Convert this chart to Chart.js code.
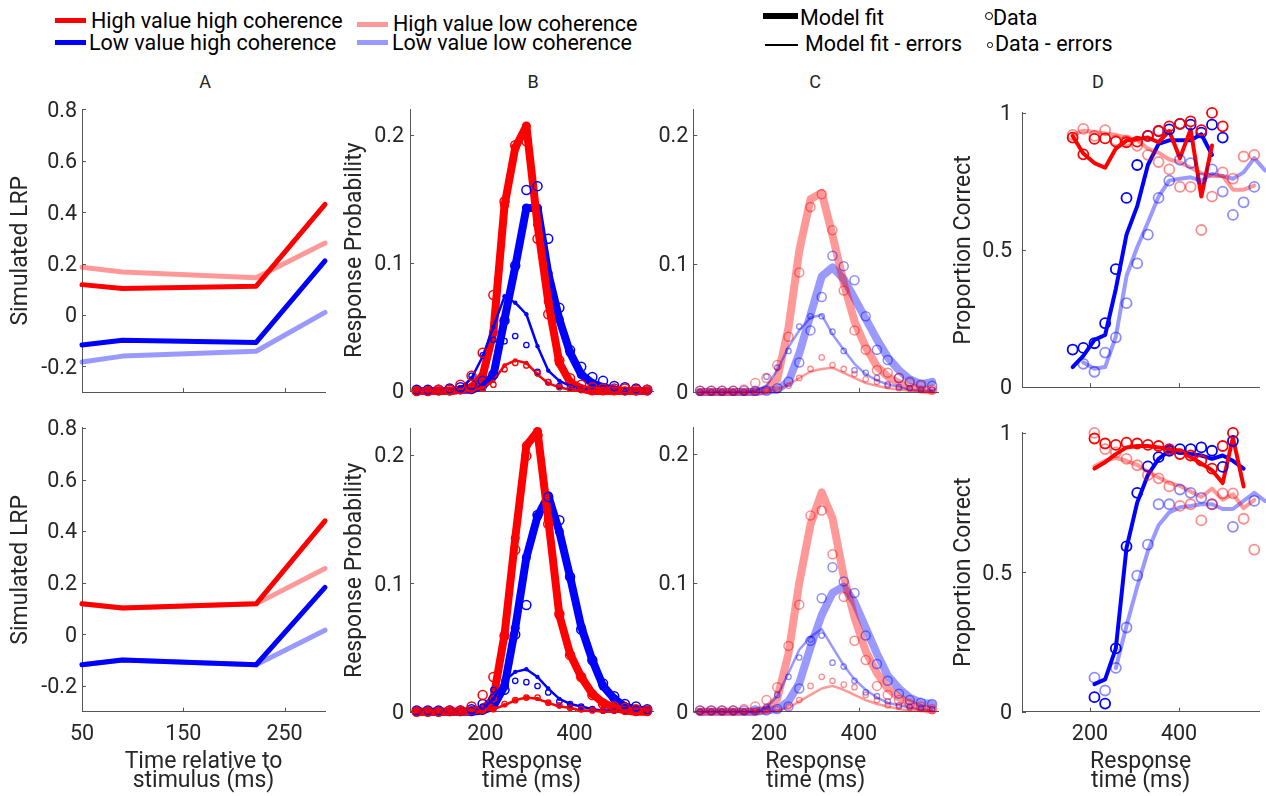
<!DOCTYPE html>
<html>
<head>
<meta charset="utf-8">
<script src="https://cdn.jsdelivr.net/npm/chart.js@4.4.0/dist/chart.umd.min.js"></script>
<style>
  body { margin: 0; background: #fff; width: 1266px; height: 796px; overflow: hidden; position: relative; font-family: Roboto, sans-serif; color: #000; }
  canvas { position: absolute; }
  .lg { position: absolute; font-size: 21.5px; line-height: 1; white-space: nowrap; }
  .sw { position: absolute; }
  .ring { position: absolute; box-sizing: border-box; border: 1.3px solid #000; border-radius: 50%; }
  .letter { position: absolute; width: 40px; text-align: center; font-size: 18px; line-height: 1; color: #262626; }
</style>
</head>
<body>

<!-- legend -->
<div class="sw" style="left:55px;top:18px;width:31px;height:5px;background:#ff0000"></div>
<div class="lg" style="left:91px;top:10px">High value high coherence</div>
<div class="sw" style="left:55px;top:40px;width:31px;height:5px;background:#0000ff"></div>
<div class="lg" style="left:89px;top:32px">Low value high coherence</div>
<div class="sw" style="left:357px;top:22px;width:31px;height:5px;background:rgba(255,0,0,0.4)"></div>
<div class="lg" style="left:393px;top:12.5px">High value low coherence</div>
<div class="sw" style="left:357px;top:40px;width:31px;height:5px;background:rgba(0,0,255,0.4)"></div>
<div class="lg" style="left:392px;top:32px">Low value low coherence</div>
<div class="sw" style="left:763px;top:13px;width:35px;height:6px;background:#000"></div>
<div class="lg" style="left:800px;top:7px">Model fit</div>
<div class="sw" style="left:765px;top:43.7px;width:33px;height:2.5px;background:#000"></div>
<div class="lg" style="left:805px;top:33px">Model fit - errors</div>
<div class="ring" style="left:985px;top:12px;width:8px;height:8px"></div>
<div class="lg" style="left:993px;top:7px">Data</div>
<div class="ring" style="left:987.3px;top:42.3px;width:5.5px;height:5.5px"></div>
<div class="lg" style="left:995px;top:33px">Data - errors</div>

<div class="letter" style="left:185px;top:73px">A</div>
<div class="letter" style="left:513px;top:73px">B</div>
<div class="letter" style="left:795px;top:73px">C</div>
<div class="letter" style="left:1078px;top:73px">D</div>

<canvas id="aTop" width="335" height="320" style="left:0px;top:90px"></canvas>
<canvas id="bTop" width="360" height="320" style="left:300px;top:90px"></canvas>
<canvas id="cTop" width="300" height="320" style="left:645px;top:90px"></canvas>
<canvas id="dTop" width="331" height="320" style="left:935px;top:90px"></canvas>
<canvas id="aBot" width="335" height="386" style="left:0px;top:410px"></canvas>
<canvas id="bBot" width="360" height="386" style="left:300px;top:410px"></canvas>
<canvas id="cBot" width="300" height="386" style="left:645px;top:410px"></canvas>
<canvas id="dBot" width="331" height="386" style="left:935px;top:410px"></canvas>

<script>
// ---- A: simulated LRP ----
const lrpTime = [50, 90, 222, 290];
const lrpTopHH = [0.118, 0.103, 0.112, 0.43];
const lrpTopHL = [0.186, 0.167, 0.145, 0.28];
const lrpTopLH = [-0.117, -0.098, -0.107, 0.21];
const lrpTopLL = [-0.183, -0.16, -0.141, 0.01];
const lrpBotHH = [0.118, 0.102, 0.118, 0.44];
const lrpBotHL = [0.118, 0.102, 0.118, 0.255];
const lrpBotLH = [-0.118, -0.1, -0.118, 0.182];
const lrpBotLL = [-0.118, -0.1, -0.118, 0.016];

// ---- B / C: response time distributions ----
const rtBins = [46, 71, 95, 120, 144, 169, 194, 218, 243, 267, 292, 317, 341, 366, 390, 415, 440, 464, 489, 513, 538, 563];

const bTopHHFit     = [0,0,0,0,0.001,0.003,0.012,0.046,0.145,0.19,0.207,0.13,0.07,0.022,0.007,0.002,0,0,0,0,0,0];
const bTopLHFit     = [0,0,0,0,0.001,0.001,0.004,0.012,0.056,0.097,0.143,0.143,0.092,0.056,0.03,0.013,0.006,0.003,0.001,0,0,0];
const bTopHHErrFit  = [0,0,0,0,0,0,0.003,0.008,0.02,0.024,0.022,0.013,0.006,0.003,0.001,0,0,0,0,0,0,0];
const bTopLHErrFit  = [0,0,0,0,0.002,0.01,0.027,0.05,0.074,0.069,0.06,0.035,0.016,0.008,0.004,0.002,0.001,0,0,0,0,0];
const bTopHHData    = [0,0,0.001,0.001,0.005,0.012,0.03,0.075,0.148,0.192,0.195,0.119,0.06,0.024,0.01,0.005,0.003,0.002,0.002,0.002,0.001,0.001];
const bTopLHData    = [0.001,0.001,0.001,0.002,0.003,0.005,0.008,0.013,0.055,0.098,0.157,0.16,0.119,0.065,0.032,0.019,0.011,0.008,0.004,0.003,0.002,0.001];
const bTopHHErrData = [0,0,0,0,0,0.001,0.002,0.005,0.017,0.022,0.02,0.014,0.007,0.003,0.002,0.001,0.001,0.001,0.001,0.001,0,0];
const bTopLHErrData = [0,0,0,0,0.002,0.012,0.028,0.04,0.039,0.043,0.036,0.015,0.007,0.004,0.003,0.001,0.001,0.001,0.001,0,0,0];

const bBotHHFit     = [0,0,0,0,0,0.001,0.002,0.01,0.06,0.135,0.207,0.218,0.15,0.075,0.045,0.027,0.014,0.007,0.003,0.001,0,0];
const bBotLHFit     = [0,0,0,0,0,0,0.001,0.004,0.02,0.065,0.12,0.152,0.168,0.14,0.105,0.066,0.04,0.02,0.01,0.004,0.002,0.001];
const bBotHHErrFit  = [0,0,0,0,0,0,0.001,0.002,0.005,0.009,0.011,0.01,0.007,0.004,0.003,0.001,0.001,0,0,0,0,0];
const bBotLHErrFit  = [0,0,0,0,0,0,0.002,0.01,0.024,0.031,0.033,0.027,0.018,0.01,0.006,0.004,0.002,0.001,0.001,0,0,0];
const bBotHHData    = [0,0,0,0.001,0.001,0.004,0.013,0.027,0.059,0.126,0.199,0.215,0.146,0.076,0.044,0.027,0.013,0.006,0.004,0.003,0.002,0.001];
const bBotLHData    = [0.001,0.001,0.001,0.001,0.001,0.002,0.006,0.01,0.017,0.06,0.083,0.153,0.167,0.149,0.105,0.064,0.04,0.022,0.012,0.006,0.004,0.002];
const bBotHHErrData = [0,0,0,0,0,0,0.001,0.002,0.006,0.009,0.011,0.011,0.007,0.005,0.003,0.002,0.001,0.001,0.001,0,0,0];
const bBotLHErrData = [0,0,0,0,0,0.001,0.004,0.017,0.024,0.024,0.023,0.02,0.015,0.008,0.006,0.004,0.002,0.001,0.001,0.001,0,0];

const cTopHLFit     = [0,0,0,0,0,0,0.002,0.01,0.05,0.11,0.15,0.155,0.122,0.085,0.055,0.035,0.02,0.012,0.007,0.004,0.002,0.001];
const cTopLLFit     = [0,0,0,0,0,0,0.001,0.002,0.008,0.03,0.06,0.09,0.097,0.088,0.073,0.057,0.041,0.027,0.017,0.01,0.006,0.008];
const cTopHLErrFit  = [0,0,0,0,0,0,0,0.002,0.006,0.011,0.016,0.018,0.019,0.015,0.011,0.007,0.005,0.003,0.002,0.001,0.001,0];
const cTopLLErrFit  = [0,0,0,0,0,0.001,0.005,0.017,0.035,0.048,0.058,0.06,0.045,0.033,0.022,0.014,0.009,0.006,0.004,0.002,0.001,0.001];
const cTopHLData    = [0.001,0.001,0.001,0.001,0.002,0.007,0.011,0.021,0.043,0.093,0.144,0.154,0.126,0.079,0.048,0.033,0.017,0.015,0.011,0.007,0.005,0.002];
const cTopLLData    = [0.001,0.001,0.001,0.001,0.001,0.001,0.001,0.003,0.008,0.023,0.048,0.074,0.106,0.098,0.087,0.059,0.033,0.025,0.011,0.008,0.006,0.005];
const cTopHLErrData = [0,0,0,0,0,0,0.001,0.002,0.005,0.011,0.018,0.027,0.021,0.018,0.014,0.01,0.008,0.005,0.003,0.003,0.002,0.002];
const cTopLLErrData = [0,0,0,0,0,0.002,0.012,0.019,0.032,0.051,0.059,0.059,0.047,0.032,0.017,0.015,0.011,0.006,0.004,0.003,0.002,0.002];

const cBotHLFit     = [0,0,0,0,0,0,0.002,0.01,0.045,0.1,0.145,0.17,0.15,0.105,0.073,0.047,0.03,0.018,0.011,0.006,0.003,0.001];
const cBotLLFit     = [0,0,0,0,0,0,0.001,0.002,0.008,0.022,0.05,0.075,0.092,0.097,0.085,0.065,0.045,0.028,0.018,0.011,0.007,0.006];
const cBotHLErrFit  = [0,0,0,0,0,0,0,0.001,0.003,0.008,0.013,0.018,0.02,0.017,0.013,0.009,0.006,0.004,0.002,0.001,0.001,0.001];
const cBotLLErrFit  = [0,0,0,0,0,0,0.003,0.012,0.03,0.048,0.058,0.064,0.05,0.036,0.025,0.017,0.011,0.007,0.005,0.003,0.002,0.001];
const cBotHLData    = [0.001,0.001,0.001,0.001,0.002,0.004,0.009,0.019,0.051,0.083,0.152,0.156,0.122,0.089,0.055,0.04,0.02,0.013,0.009,0.006,0.004,0.002];
const cBotLLData    = [0.001,0.001,0.001,0.001,0.001,0.001,0.001,0.002,0.004,0.018,0.055,0.088,0.112,0.101,0.092,0.059,0.037,0.024,0.014,0.009,0.007,0.006];
const cBotHLErrData = [0,0,0,0,0,0,0.001,0.002,0.004,0.009,0.02,0.027,0.024,0.021,0.019,0.013,0.009,0.005,0.004,0.003,0.002,0.002];
const cBotLLErrData = [0,0,0,0,0,0.001,0.004,0.013,0.027,0.042,0.056,0.059,0.038,0.035,0.024,0.015,0.012,0.008,0.005,0.004,0.003,0.002];

// ---- D: proportion correct ----
const accBins = [161, 185, 210, 234, 258, 282, 306, 330, 354, 378, 402, 426, 450, 474, 498, 521, 545, 569, 593];

const dTopHHFit  = [0.916,0.852,0.817,0.8,0.87,0.899,0.905,0.91,0.893,0.934,0.835,0.94,0.695,0.881,null,null,null,null,null];
const dTopLHFit  = [0.073,0.114,0.172,0.19,0.358,0.556,0.66,0.81,0.887,0.9,0.9,0.9,0.922,0.847,null,null,null,null,null];
const dTopHLFit  = [0.92,0.935,0.93,0.925,0.92,0.91,0.9,0.87,0.855,0.83,0.82,0.8,0.78,0.77,0.77,0.72,0.72,0.735,null];
const dTopLLFit  = [null,0.09,0.067,0.073,0.184,0.405,0.51,0.6,0.695,0.753,0.76,0.765,0.753,0.777,0.77,0.76,0.783,0.835,0.79];
const dTopHHData = [0.91,0.849,0.905,0.907,0.895,0.893,0.895,0.916,0.934,0.951,0.96,0.969,0.937,1.0,0.951,null,null,null,null];
const dTopLHData = [0.137,0.143,0.16,0.233,0.43,0.69,0.81,0.916,0.934,0.94,0.96,0.957,0.928,0.957,0.91,null,null,null,null];
const dTopHLData = [0.92,0.942,0.916,0.937,0.9,0.9,0.88,0.847,0.821,0.794,0.73,0.73,0.573,0.695,0.783,0.76,0.841,0.847,null];
const dTopLLData = [null,0.085,0.056,0.126,0.181,0.306,0.451,0.556,0.69,0.753,0.829,0.817,0.76,0.794,0.713,0.628,0.674,0.73,null];

const dBotHHFit  = [null,null,0.872,0.895,0.924,0.948,0.953,0.953,0.948,0.942,0.936,0.913,0.89,0.866,0.82,0.983,0.808,null,null];
const dBotLHFit  = [null,null,0.099,0.116,0.227,0.587,0.75,0.849,0.907,0.936,0.93,0.924,0.919,0.907,0.919,0.9,0.872,null,null];
const dBotHLFit  = [null,null,0.88,0.9,0.91,0.9,0.885,0.86,0.84,0.82,0.81,0.79,0.77,0.8,0.76,0.78,0.73,0.76,null];
const dBotLLFit  = [null,null,null,null,0.157,0.308,0.448,0.576,0.669,0.715,0.733,0.738,0.744,0.744,0.727,0.727,0.756,0.785,0.756];
const dBotHHData = [null,null,0.98,0.962,0.957,0.965,0.962,0.957,0.953,0.942,0.924,0.919,0.901,0.872,0.953,1.0,null,null,null];
const dBotLHData = [null,null,0.052,0.029,0.227,0.593,0.785,0.88,0.913,0.936,0.942,0.942,0.948,0.936,0.878,0.971,null,null,null];
const dBotHLData = [null,null,1.0,0.942,0.93,0.907,0.884,0.849,0.837,0.808,0.738,0.744,0.686,0.744,0.783,0.783,0.692,0.581,null];
const dBotLLData = [null,null,0.122,0.076,0.157,0.302,0.488,0.599,0.744,0.744,0.797,0.785,0.767,0.744,null,0.663,null,0.756,null];

// ---- ticks ----
const lrpYTicks = [-0.2, 0, 0.2, 0.4, 0.6, 0.8];
const lrpXTicks = [50, 150, 250];
const probYTicks = [0, 0.1, 0.2];
const rtXTicks = [200, 400];
const accYTicks = [0, 0.5, 1];

const RED = '#ff0000', BLUE = '#0000ff';
const PINK = 'rgba(255,0,0,0.4)', LBLUE = 'rgba(0,0,255,0.4)';
const PINKC = 'rgba(255,0,0,0.45)', LBLUEC = 'rgba(0,0,255,0.45)';
const TXT = '#262626', AX = '#555555';

Chart.defaults.font.family = 'Roboto, sans-serif';
Chart.defaults.color = TXT;

function pts(xs, ys) {
  return xs.map((x, i) => ({x: x, y: ys[i]})).filter(p => p.y !== null && p.y !== undefined);
}
function line(xs, ys, color, width, dot) {
  return {data: pts(xs, ys), showLine: true, borderColor: color, backgroundColor: color, borderWidth: width,
          borderJoinStyle: 'round', borderCapStyle: 'round',
          pointRadius: dot || 0, pointBorderWidth: 0, pointBackgroundColor: color, tension: 0, clip: false, order: width > 3 ? 3 : 2};
}
function rings(xs, ys, color, r, bw) {
  return {data: pts(xs, ys), showLine: false, pointRadius: r, pointBorderWidth: bw, pointBorderColor: color,
          pointBackgroundColor: 'rgba(0,0,0,0)', clip: false, order: 1};
}

// inward tick marks, matlab style
const innerTicks = {
  id: 'innerTicks',
  afterDraw(chart) {
    const ctx = chart.ctx, a = chart.chartArea;
    const xs = chart.scales.x, ys = chart.scales.y;
    ctx.save();
    ctx.strokeStyle = AX;
    ctx.lineWidth = 1;
    xs.ticks.forEach(t => {
      const p = Math.round(xs.getPixelForValue(t.value)) + 0.5;
      ctx.beginPath(); ctx.moveTo(p, a.bottom); ctx.lineTo(p, a.bottom - 4); ctx.stroke();
    });
    ys.ticks.forEach(t => {
      const p = Math.round(ys.getPixelForValue(t.value)) + 0.5;
      ctx.beginPath(); ctx.moveTo(a.left, p); ctx.lineTo(a.left + 4, p); ctx.stroke();
    });
    ctx.restore();
  }
};

function panel(id, o) {
  return new Chart(document.getElementById(id), {
    type: 'scatter',
    data: {datasets: o.datasets},
    options: {
      responsive: false,
      animation: false,
      events: [],
      layout: {padding: {top: o.padTop, right: o.padRight, left: 0, bottom: 0}},
      plugins: {legend: {display: false}, tooltip: {enabled: false}},
      scales: {
        x: {
          type: 'linear', min: o.xMin, max: o.xMax,
          afterBuildTicks: s => { s.ticks = o.xTicks.map(v => ({value: v})); },
          afterFit: s => { s.height = o.xH; },
          grid: {display: false, drawTicks: false},
          border: {display: true, color: AX, width: 1},
          ticks: {display: o.xLabels, padding: 10, autoSkip: false, maxRotation: 0, font: {size: 21.5}, color: TXT, callback: v => String(v)},
          title: {display: o.xLabels, text: o.xTitle, color: TXT, font: {size: 23, lineHeight: 0.8}, padding: {top: 0, bottom: 6}}
        },
        y: {
          type: 'linear', min: o.yMin, max: o.yMax,
          afterBuildTicks: s => { s.ticks = o.yTicks.map(v => ({value: v})); },
          afterFit: s => { s.width = o.yW; },
          grid: {display: false, drawTicks: false},
          border: {display: true, color: AX, width: 1},
          ticks: {padding: o.yPad, labelOffset: 2, autoSkip: false, font: {size: 21.5}, color: TXT, callback: v => String(v)},
          title: {display: !!o.yTitle, text: o.yTitle, color: TXT, font: {size: 23, lineHeight: 1.2}, padding: {top: o.yTitlePad || 0, bottom: 0}}
        }
      }
    },
    plugins: [innerTicks]
  });
}

const topRow = {padTop: 19.3, xH: 13.5, xLabels: false};
const botRow = {padTop: 15, xH: 84.3, xLabels: true};

function lrpSets(hh, hl, lh, ll) {
  return [line(lrpTime, hl, PINK, 5), line(lrpTime, ll, LBLUE, 5), line(lrpTime, hh, RED, 5), line(lrpTime, lh, BLUE, 5)];
}
function bSets(hhFit, lhFit, hhErr, lhErr, hhD, lhD, hhED, lhED) {
  return [
    line(rtBins, hhFit, RED, 8, 4.5), line(rtBins, lhFit, BLUE, 8, 4.5),
    line(rtBins, hhErr, RED, 2.5, 2.2), line(rtBins, lhErr, BLUE, 2.5, 2.2),
    rings(rtBins, hhD, RED, 4.5, 1.5), rings(rtBins, lhD, BLUE, 4.5, 1.5),
    rings(rtBins, hhED, RED, 2.7, 1.3), rings(rtBins, lhED, BLUE, 2.7, 1.3)
  ];
}
function cSets(hlFit, llFit, hlErr, llErr, hlD, llD, hlED, llED) {
  return [
    line(rtBins, hlFit, PINK, 8), line(rtBins, llFit, LBLUE, 8),
    line(rtBins, hlErr, PINK, 2.5), line(rtBins, llErr, LBLUE, 2.5),
    rings(rtBins, hlD, PINKC, 4.5, 1.5), rings(rtBins, llD, LBLUEC, 4.5, 1.5),
    rings(rtBins, hlED, PINKC, 2.7, 1.3), rings(rtBins, llED, LBLUEC, 2.7, 1.3)
  ];
}
function dSets(hhF, lhF, hlF, llF, hhD, lhD, hlD, llD) {
  return [
    line(accBins, hlF, PINK, 4), line(accBins, llF, LBLUE, 4),
    line(accBins, hhF, RED, 4), line(accBins, lhF, BLUE, 4),
    rings(accBins, hlD, PINKC, 5, 1.8), rings(accBins, llD, LBLUEC, 5, 1.8),
    rings(accBins, hhD, RED, 5, 1.8), rings(accBins, lhD, BLUE, 5, 1.8)
  ];
}

const aCol = {xMin: 50, xMax: 290, xTicks: lrpXTicks, yMin: -0.3, yMax: 0.8, yTicks: lrpYTicks, yW: 82, padRight: 10, yPad: 5,
              yTitle: 'Simulated LRP', yTitlePad: 7.8, xTitle: ['Time relative to', 'stimulus (ms)']};
const bCol = {xMin: 31, xMax: 576, xTicks: rtXTicks, yMin: 0, yMax: 0.22, yTicks: probYTicks, yW: 110, padRight: 7, yPad: 6,
              yTitle: 'Response Probability', yTitlePad: 41, xTitle: ['Response', 'time (ms)']};
const cCol = {xMin: 31, xMax: 576, xTicks: rtXTicks, yMin: 0, yMax: 0.22, yTicks: probYTicks, yW: 48.3, padRight: 7, yPad: 5,
              yTitle: '', xTitle: ['Response', 'time (ms)']};
const dCol = {xMin: 47.3, xMax: 580, xTicks: rtXTicks, yMin: 0, yMax: 1, yTicks: accYTicks, yW: 87, padRight: 4, yPad: 10,
              yTitle: 'Proportion Correct', yTitlePad: 15, xTitle: ['Response', 'time (ms)']};

panel('aTop', Object.assign({}, aCol, topRow, {datasets: lrpSets(lrpTopHH, lrpTopHL, lrpTopLH, lrpTopLL)}));
panel('aBot', Object.assign({}, aCol, botRow, {datasets: lrpSets(lrpBotHH, lrpBotHL, lrpBotLH, lrpBotLL)}));
panel('bTop', Object.assign({}, bCol, topRow, {datasets: bSets(bTopHHFit, bTopLHFit, bTopHHErrFit, bTopLHErrFit, bTopHHData, bTopLHData, bTopHHErrData, bTopLHErrData)}));
panel('bBot', Object.assign({}, bCol, botRow, {datasets: bSets(bBotHHFit, bBotLHFit, bBotHHErrFit, bBotLHErrFit, bBotHHData, bBotLHData, bBotHHErrData, bBotLHErrData)}));
panel('cTop', Object.assign({}, cCol, topRow, {datasets: cSets(cTopHLFit, cTopLLFit, cTopHLErrFit, cTopLLErrFit, cTopHLData, cTopLLData, cTopHLErrData, cTopLLErrData)}));
panel('cBot', Object.assign({}, cCol, botRow, {datasets: cSets(cBotHLFit, cBotLLFit, cBotHLErrFit, cBotLLErrFit, cBotHLData, cBotLLData, cBotHLErrData, cBotLLErrData)}));
panel('dTop', Object.assign({}, dCol, topRow, {datasets: dSets(dTopHHFit, dTopLHFit, dTopHLFit, dTopLLFit, dTopHHData, dTopLHData, dTopHLData, dTopLLData)}));
panel('dBot', Object.assign({}, dCol, botRow, {datasets: dSets(dBotHHFit, dBotLHFit, dBotHLFit, dBotLLFit, dBotHHData, dBotLHData, dBotHLData, dBotLLData)}));
</script>
</body>
</html>
